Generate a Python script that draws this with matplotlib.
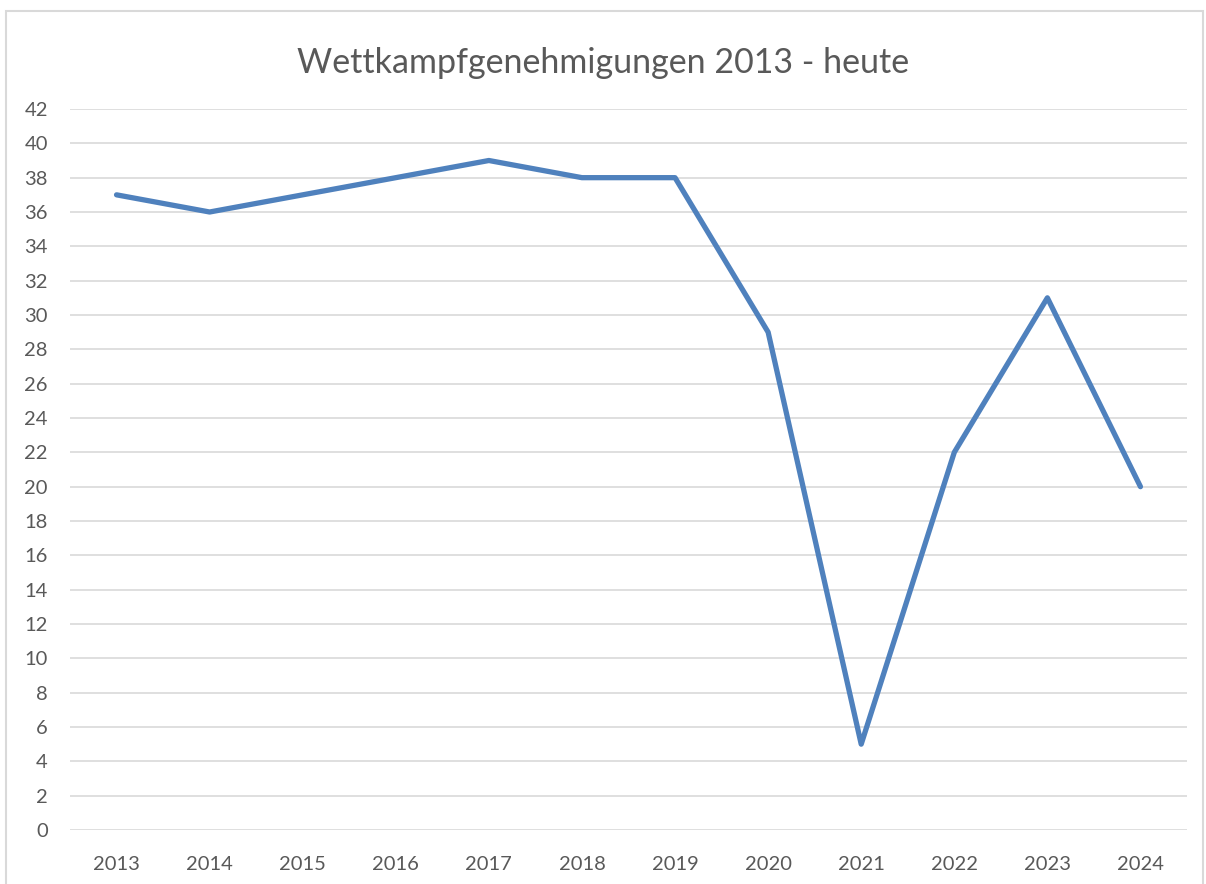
import matplotlib
matplotlib.use("Agg")
import matplotlib.pyplot as plt
from matplotlib.patches import Rectangle

years = ["2013", "2014", "2015", "2016", "2017", "2018", "2019", "2020", "2021", "2022", "2023", "2024"]
values = [37, 36, 37, 38, 39, 38, 38, 29, 5, 22, 31, 20]
yticks = list(range(0, 43, 2))
title = "Wettkampfgenehmigungen 2013 - heute"

plt.rcParams['font.family'] = ['Lato', 'DejaVu Sans']
W, H = 1206, 884
fig = plt.figure(figsize=(W/100, H/100), dpi=100)
fig.patches.append(Rectangle((6/W, -0.01), (1203-6)/W, 1 - 11/H + 0.01, transform=fig.transFigure,
                             fill=False, edgecolor="#d9d9d9", linewidth=1.5))
ax = fig.add_axes([70/W, 1-830/H, (1187-70)/W, (830-109)/H])
x = list(range(len(years)))
ax.plot(x, values, color="#4f81bd", linewidth=3.8, solid_joinstyle="round", solid_capstyle="round", zorder=3)
ax.set_xlim(-0.5, len(years)-0.5)
ax.set_ylim(0, 42)
ax.set_yticks(yticks)
ax.set_xticks(x)
ax.set_xticklabels(years)
ax.grid(axis="y", color="#d9d9d9", linewidth=1.2)
ax.set_axisbelow(True)
for s in ax.spines.values():
    s.set_visible(False)
ax.tick_params(length=0, labelsize=14.5, colors="#595959")
ax.tick_params(axis="x", pad=19)
ax.tick_params(axis="y", pad=16)
for lbl in ax.get_yticklabels():
    lbl.set_horizontalalignment("right")
fig.text(0.5, 1-63/H, title, ha="center", va="center", fontsize=24.5, color="#595959")
fig.savefig("out.png", dpi=100)
